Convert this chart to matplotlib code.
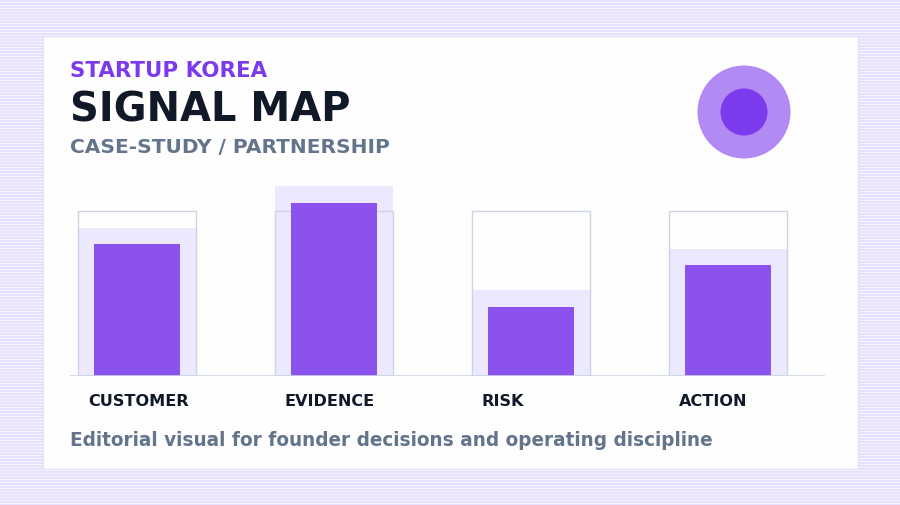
import os
import matplotlib
matplotlib.use('Agg')
import matplotlib.pyplot as plt
from matplotlib.patches import Rectangle, Circle
from matplotlib.font_manager import FontProperties
import numpy as np

BOLD = FontProperties(fname=os.path.join(matplotlib.get_data_path(),
                                         'fonts', 'ttf', 'DejaVuSans-Bold.ttf'))

# Data
categories = ['CUSTOMER', 'EVIDENCE', 'RISK', 'ACTION']
values = [80, 105, 42, 67]
target = 100
halo = 10

kicker = 'STARTUP KOREA'
title = 'SIGNAL MAP'
subtitle = 'CASE-STUDY / PARTNERSHIP'
footer = 'Editorial visual for founder decisions and operating discipline'

PURPLE = '#8b52ee'
PURPLE_DARK = '#7c3aed'
HALO = '#ece8fe'
LINE = '#cbd5e1'
SLATE = '#64748b'
INK = '#111827'

W, H = 900, 506
fig = plt.figure(figsize=(9, 5.06), dpi=100)


def label(x, y, s, size, color):
    fp = BOLD.copy()
    fp.set_size(size)
    bg.text(x, y, s, color=color, fontproperties=fp, va='center', ha='left', zorder=3)


# background with horizontal stripes
bg = fig.add_axes([0, 0, 1, 1])
stripes = np.zeros((H, 1, 3))
base = np.array([0xf6, 0xf4, 0xff]) / 255
line = np.array([0xe6, 0xe0, 0xff]) / 255
stripes[:] = line
stripes[::3] = base
bg.imshow(stripes, extent=[0, W, H, 0], aspect='auto', interpolation='nearest')
bg.set_xlim(0, W)
bg.set_ylim(H, 0)
bg.axis('off')
bg.add_patch(Rectangle((43, 37), 815, 433, facecolor='#fefeff',
                       edgecolor='#e6e2fb', linewidth=1, zorder=2))

label(70, 71, kicker, 15.4, PURPLE_DARK)
label(70, 110, title, 28.8, INK)
label(70, 147, subtitle, 14.5, SLATE)
label(70, 441, footer, 13.35, SLATE)

bg.add_patch(Circle((744, 113), 46.5, facecolor='#b28af3', edgecolor='none', zorder=3))
bg.add_patch(Circle((744, 113), 23.5, facecolor=PURPLE_DARK, edgecolor='none', zorder=4))

# bar panel: baseline at y=377 px, 165 px per 100 units
base_px = 377
top_px = 170
scale = 1.65
ax = fig.add_axes([70 / W, (H - base_px) / H, 755 / W, (base_px - top_px) / H])
ax.patch.set_alpha(0)
ax.set_ylim(0, (base_px - top_px) / scale)
ax.set_xlim(-67 / 197, (825 - 137) / 197)
x = np.arange(len(categories))
ax.bar(x, [v + halo for v in values], width=0.6, color=HALO, zorder=1)
ax.bar(x, [target] * len(x), width=0.6, facecolor='none', edgecolor=LINE,
       linewidth=1, zorder=2)
ax.bar(x, values, width=0.44, color=PURPLE, zorder=3)
ax.axhline(0, color=LINE, linewidth=1.2, zorder=4)
cat_fp = BOLD.copy()
cat_fp.set_size(11.6)
for i, c in enumerate(categories):
    ax.annotate(c, (i - 0.3, 0), xytext=(7.2, -18), textcoords='offset points',
                ha='left', va='center', fontproperties=cat_fp,
                color=INK, annotation_clip=False)
ax.axis('off')

fig.savefig('out.png', dpi=100)
